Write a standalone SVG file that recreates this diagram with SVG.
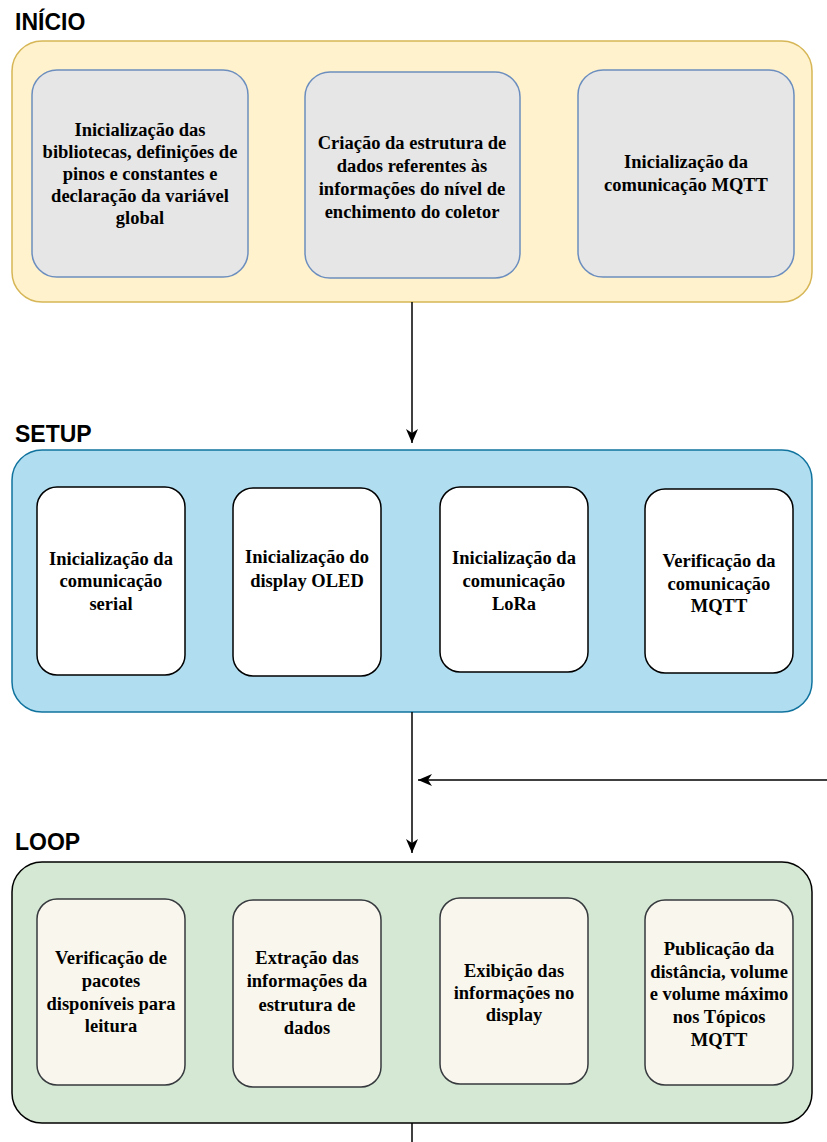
<svg xmlns="http://www.w3.org/2000/svg" width="827" height="1142" viewBox="0 0 827 1142">
<style>
.title{font-family:"Liberation Sans",Arial,sans-serif;font-weight:bold;font-size:23px;fill:#000}
.t{font-family:"Liberation Serif","Times New Roman",serif;font-weight:bold;font-size:18.5px;fill:#000;text-anchor:middle}
.c1{fill:#fff2cc;stroke:#d6b656;stroke-width:1.5}
.c2{fill:#b1ddf0;stroke:#10739e;stroke-width:1.5}
.c3{fill:#d5e8d4;stroke:#000;stroke-width:1.5}
.b1{fill:#e6e6e6;stroke:#6c8ebf;stroke-width:1.5}
.b2{fill:#fff;stroke:#000;stroke-width:1.5}
.b3{fill:#f9f7ed;stroke:#36393d;stroke-width:1.5}
.edge{stroke:#000;stroke-width:1.5;fill:none}
</style>
<defs>
<marker id="arr" markerUnits="userSpaceOnUse" markerWidth="16" markerHeight="16" viewBox="0 0 16 16" refX="14" refY="8" orient="auto">
<path d="M0,2 L14,8 L0,14 L4,8 Z" fill="#000"/>
</marker>
</defs>

<g id="inicio">
<text class="title" x="15" y="30">INÍCIO</text>
<rect class="c1" x="12" y="41" width="800" height="261" rx="30"/>
</g>
<g id="inicio-1">
<rect class="b1" x="32" y="70" width="216" height="207" rx="25"/>
<text class="t"><tspan x="140" y="136">Inicialização das</tspan><tspan x="140" y="158">bibliotecas, definições de</tspan><tspan x="140" y="180">pinos e constantes e</tspan><tspan x="140" y="202">declaração da variável</tspan><tspan x="140" y="224">global</tspan></text>
</g>
<g id="inicio-2">
<rect class="b1" x="305" y="72" width="215" height="206" rx="25"/>
<text class="t"><tspan x="412" y="149">Criação da estrutura de</tspan><tspan x="412" y="172">dados referentes às</tspan><tspan x="412" y="195">informações do nível de</tspan><tspan x="412" y="218">enchimento do coletor</tspan></text>
</g>
<g id="inicio-3">
<rect class="b1" x="578" y="70" width="216" height="207" rx="25"/>
<text class="t"><tspan x="686" y="168">Inicialização da</tspan><tspan x="686" y="191">comunicação MQTT</tspan></text>
</g>

<g id="setup">
<text class="title" x="15" y="442">SETUP</text>
<rect class="c2" x="12" y="450" width="800" height="262" rx="30"/>
</g>
<g id="setup-1">
<rect class="b2" x="37" y="487" width="148" height="188" rx="20"/>
<text class="t"><tspan x="111" y="565">Inicialização da</tspan><tspan x="111" y="587">comunicação</tspan><tspan x="111" y="610">serial</tspan></text>
</g>
<g id="setup-2">
<rect class="b2" x="233" y="488" width="148" height="188" rx="20"/>
<text class="t"><tspan x="307" y="563">Inicialização do</tspan><tspan x="307" y="587">display OLED</tspan></text>
</g>
<g id="setup-3">
<rect class="b2" x="440" y="487" width="148" height="185" rx="20"/>
<text class="t"><tspan x="514" y="564">Inicialização da</tspan><tspan x="514" y="587">comunicação</tspan><tspan x="514" y="610">LoRa</tspan></text>
</g>
<g id="setup-4">
<rect class="b2" x="645" y="489" width="148" height="184" rx="20"/>
<text class="t"><tspan x="719" y="567">Verificação da</tspan><tspan x="719" y="590">comunicação</tspan><tspan x="719" y="612">MQTT</tspan></text>
</g>

<g id="loop">
<text class="title" x="15" y="850">LOOP</text>
<rect class="c3" x="12" y="862" width="800" height="261" rx="30"/>
</g>
<g id="loop-1">
<rect class="b3" x="37" y="899" width="148" height="186" rx="20"/>
<text class="t"><tspan x="111" y="964">Verificação de</tspan><tspan x="111" y="987">pacotes</tspan><tspan x="111" y="1010">disponíveis para</tspan><tspan x="111" y="1032">leitura</tspan></text>
</g>
<g id="loop-2">
<rect class="b3" x="233" y="900" width="148" height="187" rx="20"/>
<text class="t"><tspan x="307" y="964">Extração das</tspan><tspan x="307" y="987">informações da</tspan><tspan x="307" y="1011">estrutura de</tspan><tspan x="307" y="1034">dados</tspan></text>
</g>
<g id="loop-3">
<rect class="b3" x="440" y="898" width="148" height="186" rx="20"/>
<text class="t"><tspan x="514" y="977">Exibição das</tspan><tspan x="514" y="999">informações no</tspan><tspan x="514" y="1021">display</tspan></text>
</g>
<g id="loop-4">
<rect class="b3" x="645" y="900" width="148" height="185" rx="20"/>
<text class="t"><tspan x="719" y="955">Publicação da</tspan><tspan x="719" y="978">distância, volume</tspan><tspan x="719" y="1000">e volume máximo</tspan><tspan x="719" y="1023">nos Tópicos</tspan><tspan x="719" y="1046">MQTT</tspan></text>
</g>

<g id="connectors">
<path class="edge" d="M412,302 L412,443" marker-end="url(#arr)"/>
<path class="edge" d="M412,712 L412,853" marker-end="url(#arr)"/>
<path class="edge" d="M827,780 L418,780" marker-end="url(#arr)"/>
<path class="edge" d="M412,1123 L412,1142"/>
</g>
</svg>
